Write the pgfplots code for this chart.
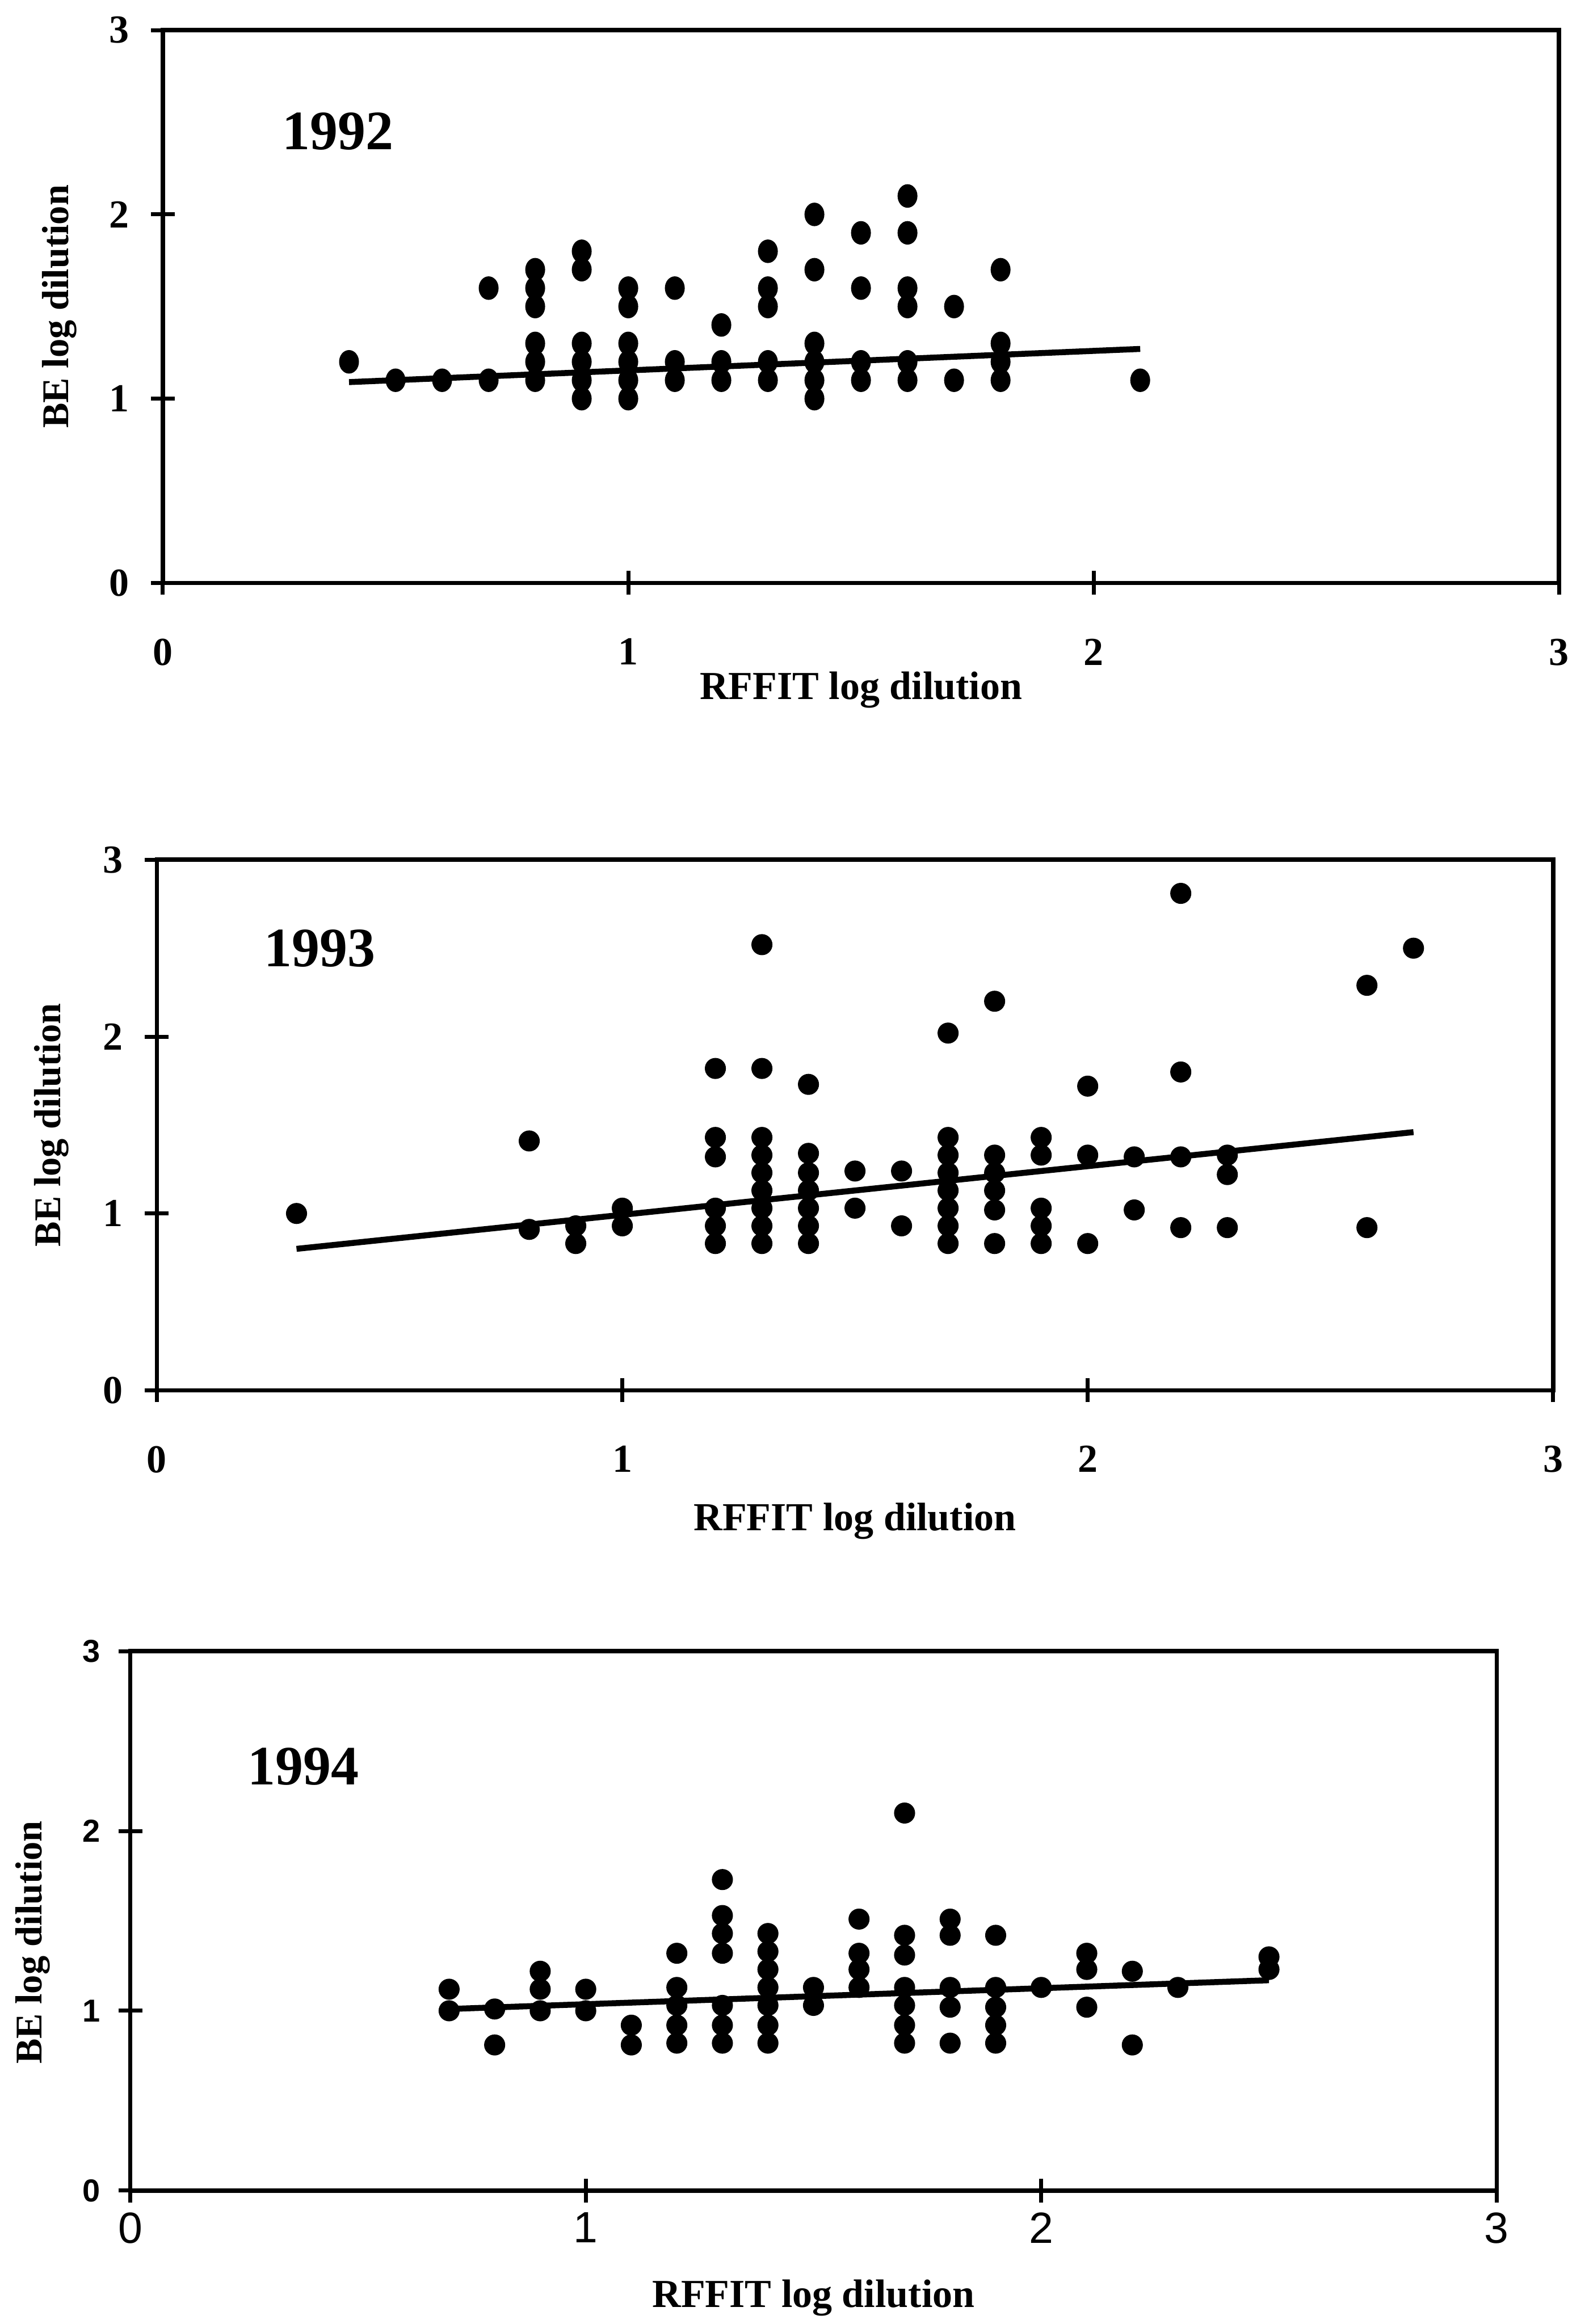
\documentclass[border=0pt]{standalone}
\usepackage{fontspec}
\setmainfont{Liberation Serif}
\newfontfamily\sansf{Liberation Sans}
\usepackage{pgfplots}
\pgfplotsset{compat=1.18}

\pgfplotsset{
  dilution/.style={
    scale only axis,
    xmin=0, xmax=3, ymin=0, ymax=3,
    xtick={0,1,2,3}, ytick={0,1,2,3},
    xticklabels={0,1,2,3}, yticklabels={0,1,2,3},
    tick pos=left, tick align=center,
    major tick length=6pt,
    axis line style={line width=1.1pt},
    every tick/.style={black, line width=1pt},
    clip=false,
    xlabel={RFFIT log dilution}, ylabel={BE log dilution},
    xlabel style={at={(axis description cs:0.5,0)}, anchor=center, font=\bfseries\fontsize{10}{12}\selectfont},
    ylabel style={at={(axis description cs:0,0.5)}, anchor=center, font=\bfseries\fontsize{9.5}{12}\selectfont},
  },
  dots/.style={only marks, mark=*, mark size=2.45pt, black},
  fit/.style={no marks, black, line width=1.5pt},
}

\begin{document}
\begin{tikzpicture}
\path[use as bounding box] (0,0) rectangle (400pt,585.2pt);

% ---------------- 1992 ----------------
\begin{axis}[dilution,
  at={(41pt,438.4pt)}, anchor=south west,
  width=351.5pt, height=139.2pt,
  ticklabel style={font=\bfseries\fontsize{10}{12}\selectfont},
  xticklabel style={yshift=-7.5pt},
  yticklabel style={xshift=-2pt},
  xlabel style={yshift=-27pt},
  ylabel style={yshift=26pt},
]
\addplot[dots, mark size=2.3pt, mark options={yscale=1.2}] coordinates {
(0.4,1.2)(0.5,1.1)(0.6,1.1)(0.7,1.6)(0.7,1.1)
(0.8,1.7)(0.8,1.6)(0.8,1.5)(0.8,1.3)(0.8,1.2)(0.8,1.1)
(0.9,1.8)(0.9,1.7)(0.9,1.3)(0.9,1.2)(0.9,1.1)(0.9,1.0)
(1.0,1.6)(1.0,1.5)(1.0,1.3)(1.0,1.2)(1.0,1.1)(1.0,1.0)
(1.1,1.6)(1.1,1.2)(1.1,1.1)
(1.2,1.4)(1.2,1.2)(1.2,1.1)
(1.3,1.8)(1.3,1.6)(1.3,1.5)(1.3,1.2)(1.3,1.1)
(1.4,2.0)(1.4,1.7)(1.4,1.3)(1.4,1.2)(1.4,1.1)(1.4,1.0)
(1.5,1.9)(1.5,1.6)(1.5,1.2)(1.5,1.1)
(1.6,2.1)(1.6,1.9)(1.6,1.6)(1.6,1.5)(1.6,1.2)(1.6,1.1)
(1.7,1.5)(1.7,1.1)
(1.8,1.7)(1.8,1.3)(1.8,1.2)(1.8,1.1)
(2.1,1.1)
};
\addplot[fit] coordinates {(0.4,1.09)(2.1,1.27)};
\node[font=\bfseries\fontsize{14}{14}\selectfont] at (axis cs:0.376,2.45) {1992};
\end{axis}

% ---------------- 1993 ----------------
\begin{axis}[dilution,
  at={(39.5pt,235.1pt)}, anchor=south west,
  width=351.5pt, height=133.6pt,
  ticklabel style={font=\bfseries\fontsize{10}{12}\selectfont},
  xticklabel style={yshift=-7.5pt},
  yticklabel style={xshift=-2pt},
  xlabel style={yshift=-33pt},
  ylabel style={yshift=26.5pt},
]
\addplot[dots] coordinates {
(0.3,1.0)(0.8,1.41)(0.8,0.91)(0.9,0.93)(0.9,0.83)(1.0,1.03)(1.0,0.93)
(1.2,1.82)(1.2,1.43)(1.2,1.32)(1.2,1.03)(1.2,0.93)(1.2,0.83)
(1.3,2.52)(1.3,1.82)(1.3,1.43)(1.3,1.33)(1.3,1.23)(1.3,1.13)(1.3,1.03)(1.3,0.93)(1.3,0.83)
(1.4,1.73)(1.4,1.34)(1.4,1.23)(1.4,1.13)(1.4,1.03)(1.4,0.93)(1.4,0.83)
(1.5,1.24)(1.5,1.03)
(1.6,1.24)(1.6,0.93)
(1.7,2.02)(1.7,1.43)(1.7,1.33)(1.7,1.23)(1.7,1.13)(1.7,1.03)(1.7,0.93)(1.7,0.83)
(1.8,2.20)(1.8,1.33)(1.8,1.23)(1.8,1.13)(1.8,1.02)(1.8,0.83)
(1.9,1.43)(1.9,1.33)(1.9,1.03)(1.9,0.93)(1.9,0.83)
(2.0,1.72)(2.0,1.33)(2.0,0.83)
(2.1,1.32)(2.1,1.02)
(2.2,2.81)(2.2,1.80)(2.2,1.32)(2.2,0.92)
(2.3,1.33)(2.3,1.22)(2.3,0.92)
(2.6,2.29)(2.6,0.92)
(2.7,2.50)
};
\addplot[fit] coordinates {(0.3,0.80)(2.7,1.46)};
\node[font=\bfseries\fontsize{14}{14}\selectfont] at (axis cs:0.35,2.50) {1993};
\end{axis}

% ---------------- 1994 ----------------
\begin{axis}[dilution,
  at={(32.8pt,33.6pt)}, anchor=south west,
  width=344pt, height=135.8pt,
  xticklabel style={font=\sansf\fontsize{11}{12}\selectfont, yshift=1pt},
  yticklabel style={font=\sansf\bfseries\fontsize{8}{10}\selectfont, xshift=-1pt},
  xlabel style={yshift=-27pt},
  ylabel style={at={(axis description cs:0,0.46)}, yshift=24.6pt},
]
\addplot[dots] coordinates {
(0.7,1.12)(0.7,1.0)
(0.8,1.01)(0.8,0.81)
(0.9,1.22)(0.9,1.12)(0.9,1.0)
(1.0,1.12)(1.0,1.0)
(1.1,0.92)(1.1,0.81)
(1.2,1.32)(1.2,1.13)(1.2,1.03)(1.2,0.92)(1.2,0.82)
(1.3,1.73)(1.3,1.53)(1.3,1.43)(1.3,1.32)(1.3,1.03)(1.3,0.92)(1.3,0.82)
(1.4,1.43)(1.4,1.33)(1.4,1.23)(1.4,1.13)(1.4,1.03)(1.4,0.92)(1.4,0.82)
(1.5,1.13)(1.5,1.03)
(1.6,1.51)(1.6,1.32)(1.6,1.23)(1.6,1.13)
(1.7,2.10)(1.7,1.42)(1.7,1.31)(1.7,1.13)(1.7,1.03)(1.7,0.92)(1.7,0.82)
(1.8,1.51)(1.8,1.42)(1.8,1.13)(1.8,1.02)(1.8,0.82)
(1.9,1.42)(1.9,1.13)(1.9,1.02)(1.9,0.92)(1.9,0.82)
(2.0,1.13)
(2.1,1.32)(2.1,1.23)(2.1,1.02)
(2.2,1.22)(2.2,0.81)
(2.3,1.13)
(2.5,1.30)(2.5,1.23)
};
\addplot[fit] coordinates {(0.7,1.01)(2.5,1.17)};
\node[font=\bfseries\fontsize{14}{14}\selectfont] at (axis cs:0.38,2.36) {1994};
\end{axis}
\end{tikzpicture}
\end{document}
